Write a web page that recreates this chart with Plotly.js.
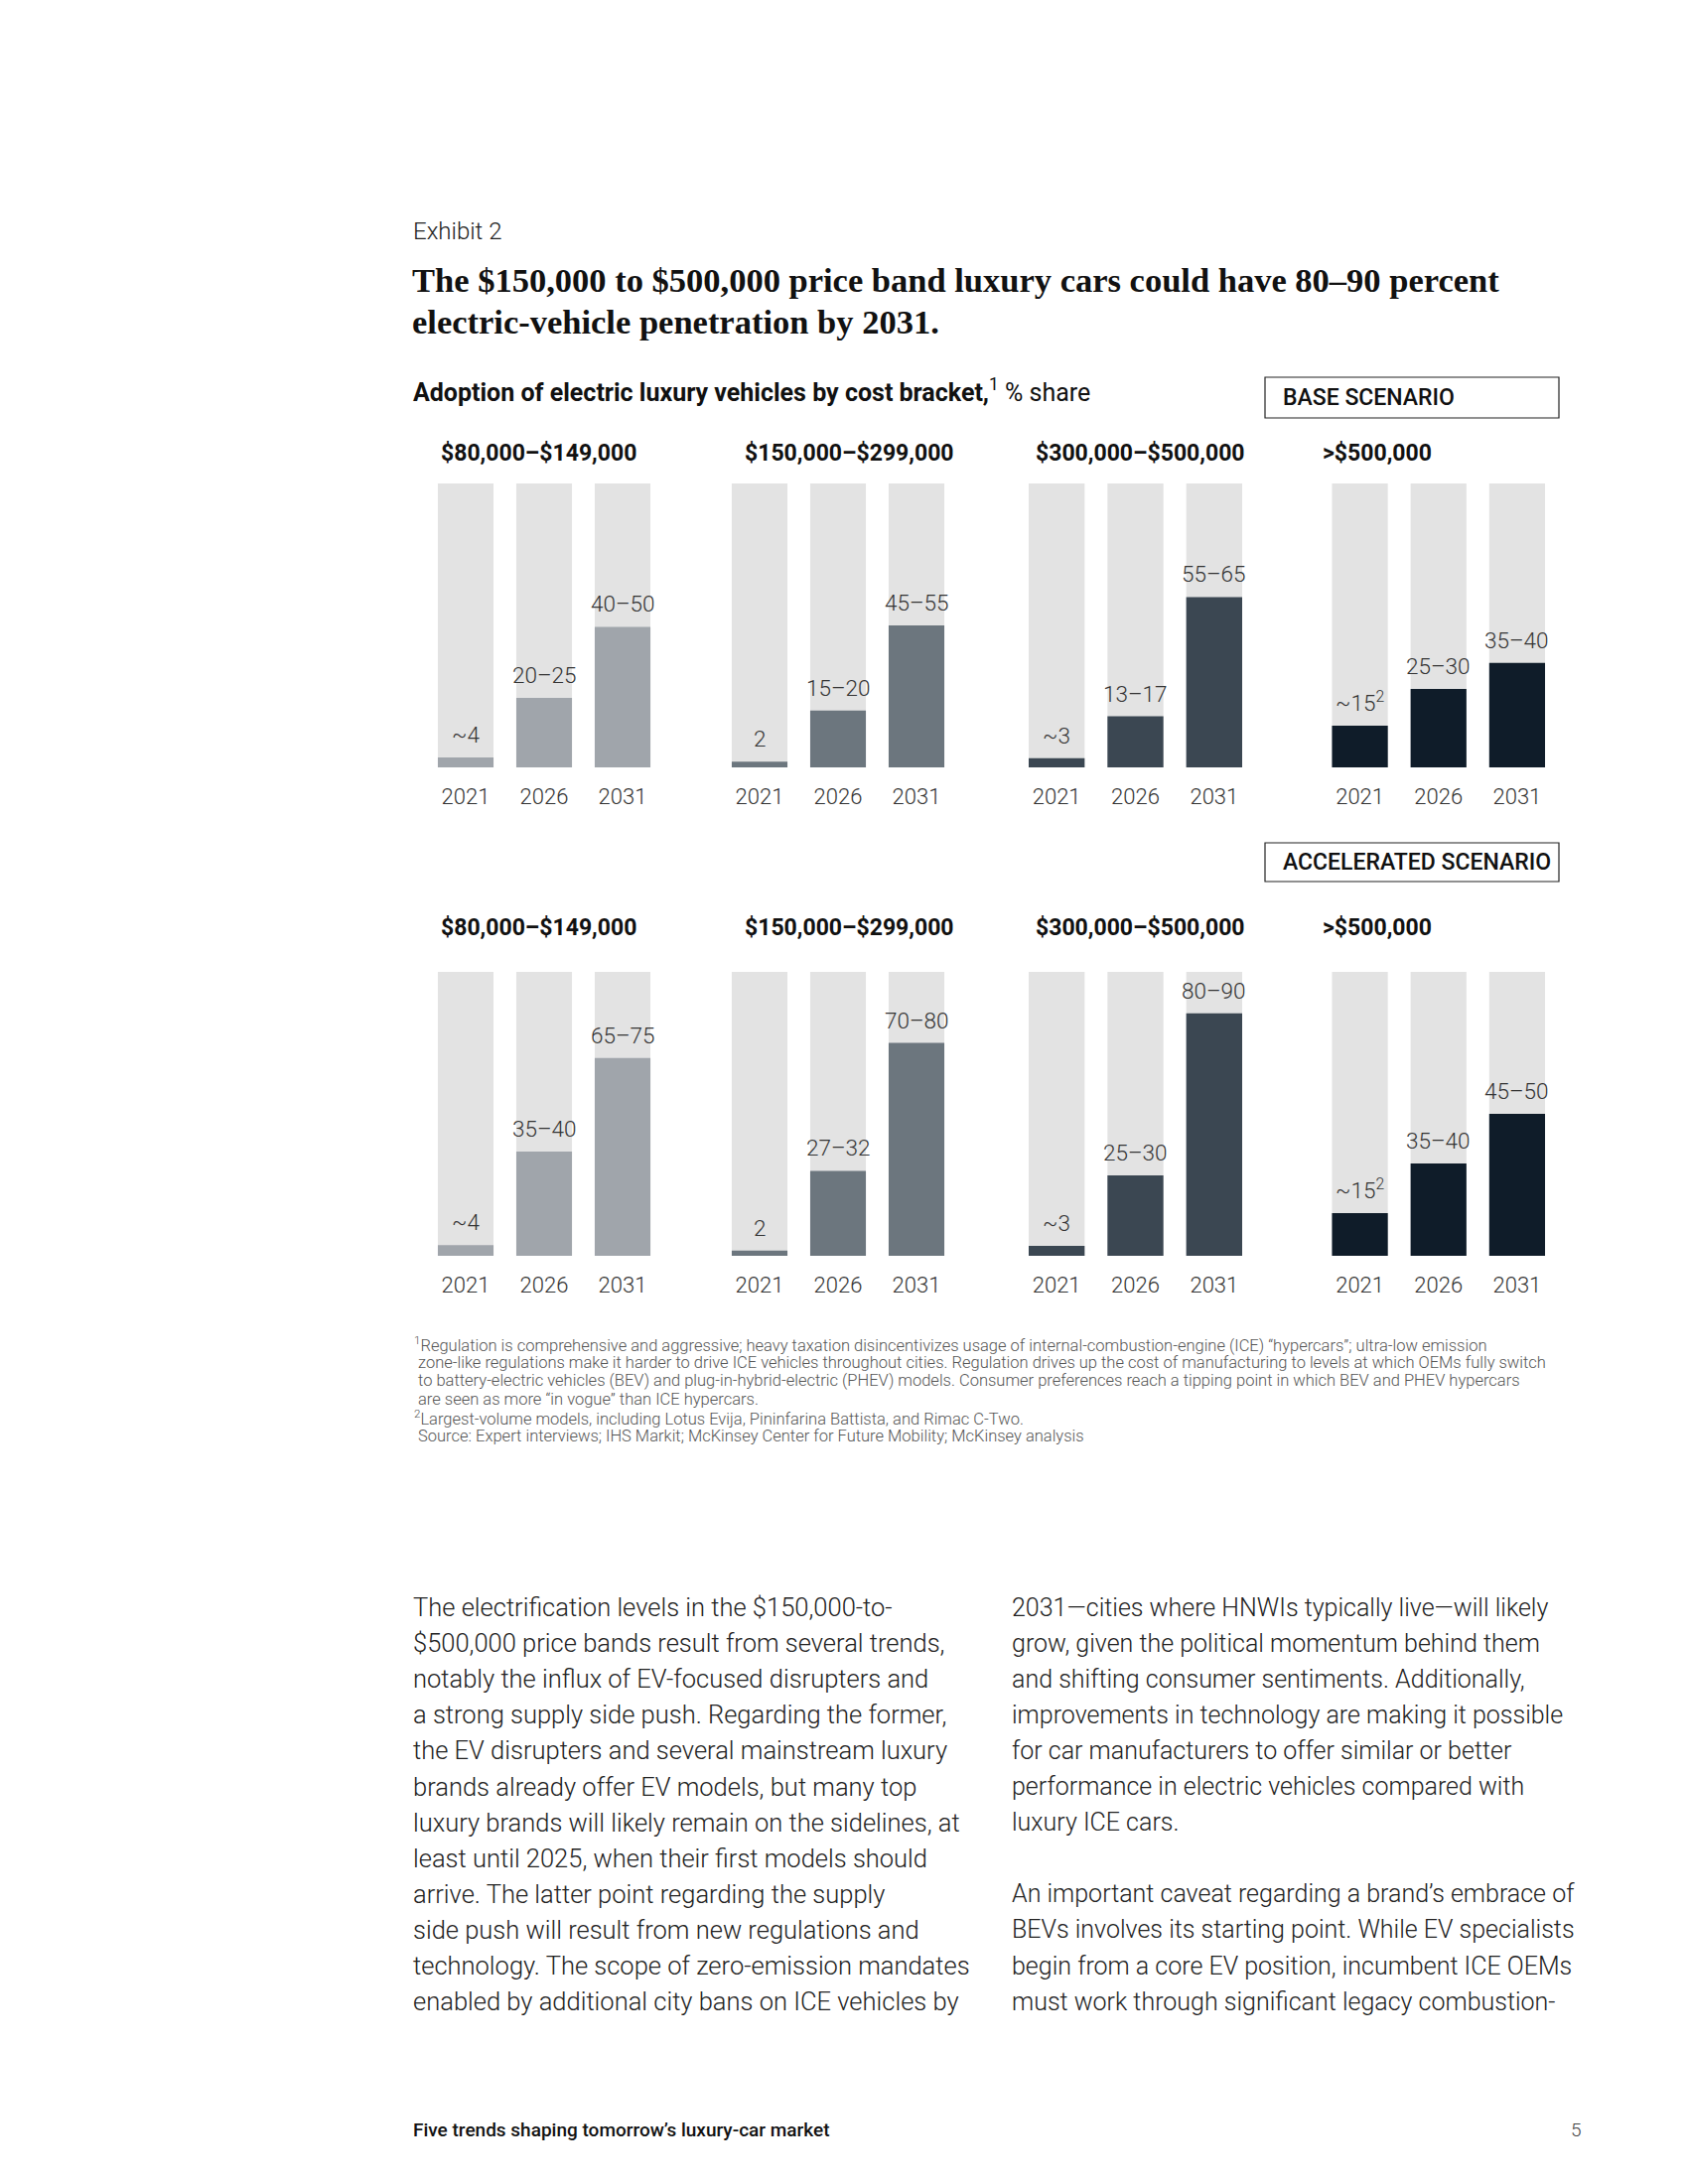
<!DOCTYPE html>
<html>
<head>
<meta charset="utf-8">
<script src="https://cdn.plot.ly/plotly-3.0.1.min.js"></script>
<style>html,body{margin:0;padding:0;background:#fff;}#chart{width:1700px;height:2200px;}</style>
</head>
<body>
<div id="chart"></div>
<script>
// ---------- DATA ----------
const years = ["2021", "2026", "2031"];
const brackets = ["$80,000–$149,000", "$150,000–$299,000", "$300,000–$500,000", ">$500,000"];
const scenarios = ["BASE SCENARIO", "ACCELERATED SCENARIO"];

const baseValues = [
  [3.5, 24.5, 49.5],
  [2, 20, 50],
  [3.2, 18, 60],
  [14.7, 27.6, 36.8]
];
const baseLabels = [
  ["~4", "20–25", "40–50"],
  ["2", "15–20", "45–55"],
  ["~3", "13–17", "55–65"],
  ["~15<sup>2</sup>", "25–30", "35–40"]
];
const accelValues = [
  [3.8, 36.7, 69.7],
  [1.8, 29.9, 75],
  [3.5, 28.3, 85.4],
  [15, 32.5, 50]
];
const accelLabels = [
  ["~4", "35–40", "65–75"],
  ["2", "27–32", "70–80"],
  ["~3", "25–30", "80–90"],
  ["~15<sup>2</sup>", "35–40", "45–50"]
];
const totalShare = [100, 100, 100];

const exhibitLabel = "Exhibit 2";
const titleLines = [
  "The $150,000 to $500,000 price band luxury cars could have 80–90 percent",
  "electric-vehicle penetration by 2031."
];
const subtitle = "<b>Adoption of electric luxury vehicles by cost bracket,</b><sup>1</sup> % share";

const footnoteLines = [
  "<sup>1</sup>Regulation is comprehensive and aggressive; heavy taxation disincentivizes usage of internal-combustion-engine (ICE) “hypercars”; ultra-low emission",
  " zone-like regulations make it harder to drive ICE vehicles throughout cities. Regulation drives up the cost of manufacturing to levels at which OEMs fully switch",
  " to battery-electric vehicles (BEV) and plug-in-hybrid-electric (PHEV) models. Consumer preferences reach a tipping point in which BEV and PHEV hypercars",
  " are seen as more “in vogue” than ICE hypercars.",
  "<sup>2</sup>Largest-volume models, including Lotus Evija, Pininfarina Battista, and Rimac C-Two.",
  " Source: Expert interviews; IHS Markit; McKinsey Center for Future Mobility; McKinsey analysis"
];

const bodyCol1 = [
  "The electrification levels in the $150,000-to-",
  "$500,000 price bands result from several trends,",
  "notably the influx of EV-focused disrupters and",
  "a strong supply side push. Regarding the former,",
  "the EV disrupters and several mainstream luxury",
  "brands already offer EV models, but many top",
  "luxury brands will likely remain on the sidelines, at",
  "least until 2025, when their first models should",
  "arrive. The latter point regarding the supply",
  "side push will result from new regulations and",
  "technology. The scope of zero-emission mandates",
  "enabled by additional city bans on ICE vehicles by"
];
const bodyCol2 = [
  "2031—cities where HNWIs typically live—will likely",
  "grow, given the political momentum behind them",
  "and shifting consumer sentiments. Additionally,",
  "improvements in technology are making it possible",
  "for car manufacturers to offer similar or better",
  "performance in electric vehicles compared with",
  "luxury ICE cars.",
  "",
  "An important caveat regarding a brand’s embrace of",
  "BEVs involves its starting point. While EV specialists",
  "begin from a core EV position, incumbent ICE OEMs",
  "must work through significant legacy combustion-"
];
const footerText = "Five trends shaping tomorrow’s luxury-car market";
const pageNumber = "5";

// ---------- STYLE / LAYOUT ----------
const W = 1700, H = 2200;
const px = x => x / W;
const py = y => 1 - y / H;
const SANS = "Roboto, 'Liberation Sans', Arial, sans-serif";
const SERIF = "'Liberation Serif', 'DejaVu Serif', serif";
const panelColors = ["#a0a5ab", "#6c767e", "#3b4752", "#0f1c29"];
const bgColor = "#e3e3e3";

const panelX = [[429.5, 666.5], [725.5, 962.5], [1024.5, 1262.5], [1330, 1567.5]];
const headerX = [442, 748, 1041, 1330];
const rowY = [[487, 773], [979, 1265]];
const headerY = [456, 934];
const boxes = [[1274, 380, 1570, 421], [1274, 849, 1570, 888]];

const traces = [];
const layout = {
  width: W, height: H,
  margin: {l: 0, r: 0, t: 0, b: 0},
  paper_bgcolor: "#fff", plot_bgcolor: "rgba(0,0,0,0)",
  showlegend: false,
  barmode: "overlay",
  font: {family: SANS, color: "#222"},
  annotations: [],
  shapes: []
};

const allValues = [baseValues, accelValues];
const allLabels = [baseLabels, accelLabels];

for (let s = 0; s < 2; s++) {
  for (let p = 0; p < 4; p++) {
    const k = s * 4 + p + 1;
    const xa = "x" + (k === 1 ? "" : k);
    const ya = "y" + (k === 1 ? "" : k);
    traces.push({
      type: "bar", x: years, y: totalShare, xaxis: xa, yaxis: ya,
      marker: {color: bgColor}, width: 0.71, hoverinfo: "skip"
    });
    traces.push({
      type: "bar", x: years, y: allValues[s][p], xaxis: xa, yaxis: ya,
      marker: {color: panelColors[p]}, width: 0.71, hoverinfo: "skip"
    });
    layout["xaxis" + (k === 1 ? "" : k)] = {
      domain: [px(panelX[p][0]), px(panelX[p][1])],
      anchor: ya, type: "category", range: [-0.5, 2.5],
      showgrid: false, zeroline: false, showline: false, ticks: "",
      ticklabelstandoff: 14,
      tickfont: {family: SANS, size: 22, color: "#333", weight: 300},
      fixedrange: true
    };
    layout["yaxis" + (k === 1 ? "" : k)] = {
      domain: [py(rowY[s][1]), py(rowY[s][0])],
      anchor: xa, range: [0, 100], visible: false, fixedrange: true
    };
    for (let j = 0; j < 3; j++) {
      layout.annotations.push({
        xref: xa, yref: ya, x: j, y: allValues[s][p][j],
        text: allLabels[s][p][j], showarrow: false,
        xanchor: "center", yanchor: "bottom", yshift: 8,
        font: {family: SANS, size: 22.5, color: "#333", weight: 300}
      });
    }
    layout.annotations.push({
      xref: "paper", yref: "paper", x: px(headerX[p]), y: py(headerY[s]),
      xanchor: "left", yanchor: "middle", showarrow: false,
      text: "<b>" + brackets[p] + "</b>",
      font: {family: SANS, size: 23, color: "#111"}
    });
  }
  const b = boxes[s];
  layout.shapes.push({
    type: "rect", xref: "paper", yref: "paper",
    x0: px(b[0]), x1: px(b[2]), y0: py(b[3]), y1: py(b[1]),
    line: {color: "#222", width: 1.2}, fillcolor: "rgba(0,0,0,0)"
  });
  layout.annotations.push({
    xref: "paper", yref: "paper", x: px(b[0] + 16), y: py((b[1] + b[3]) / 2),
    xanchor: "left", yanchor: "middle", showarrow: false,
    text: scenarios[s],
    font: {family: SANS, size: 23, color: "#111", weight: 500}
  });
}

function textLine(text, x, y, size, color, family, weight) {
  layout.annotations.push({
    xref: "paper", yref: "paper", x: px(x), y: py(y),
    xanchor: "left", yanchor: "middle", showarrow: false, align: "left",
    text: text, font: {family: family || SANS, size: size, color: color, weight: weight || 400}
  });
}

textLine(exhibitLabel, 414, 233, 24, "#222", SANS, 300);
titleLines.forEach((t, i) => textLine("<b>" + t + "</b>", 413, 282 + i * 42, 34.5, "#111", SERIF));
textLine(subtitle, 414, 393, 25, "#111", SANS);

footnoteLines.forEach((t, i) => textLine(t, 415, 1354 + i * 18.4, 16.5, "#555", SANS, 300));

bodyCol1.forEach((t, i) => { if (t) textLine(t, 414, 1619 + i * 36.1, 25.5, "#222", SANS, 300); });
bodyCol2.forEach((t, i) => { if (t) textLine(t, 1017, 1619 + i * 36.1, 25, "#222", SANS, 300); });

textLine(footerText, 414, 2145, 19, "#111", SANS, 500);
textLine(pageNumber, 1580, 2145, 19, "#444", SANS, 300);

Plotly.newPlot("chart", traces, layout, {displayModeBar: false, staticPlot: true});
</script>
</body>
</html>
